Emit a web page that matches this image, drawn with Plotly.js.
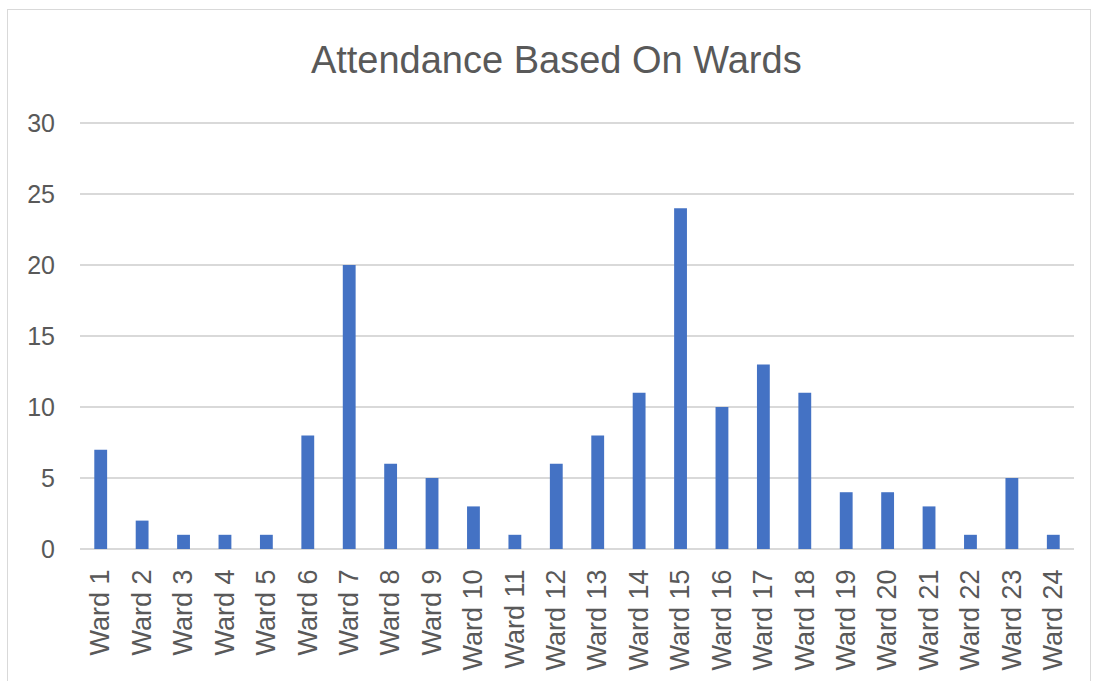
<!DOCTYPE html>
<html>
<head>
<meta charset="utf-8">
<script src="https://cdn.plot.ly/plotly-3.0.1.min.js"></script>
<style>
html,body{margin:0;padding:0;background:#fff;}
#chart{width:1095px;height:681px;position:relative;}
#frame{position:absolute;left:7px;top:9px;width:1082px;height:720px;border:1.5px solid #d9d9d9;pointer-events:none;}
</style>
</head>
<body>
<div id="chart"></div>
<div id="frame"></div>
<script>
const wards = ["Ward 1","Ward 2","Ward 3","Ward 4","Ward 5","Ward 6","Ward 7","Ward 8","Ward 9","Ward 10","Ward 11","Ward 12","Ward 13","Ward 14","Ward 15","Ward 16","Ward 17","Ward 18","Ward 19","Ward 20","Ward 21","Ward 22","Ward 23","Ward 24"];
const attendance = [7,2,1,1,1,8,20,6,5,3,1,6,8,11,24,10,13,11,4,4,3,1,5,1];
const yTicks = [0,5,10,15,20,25,30];
const chartTitle = "Attendance Based On Wards";

const font = "Liberation Sans, Arial, sans-serif";
Plotly.newPlot("chart", [{
  type: "bar",
  x: wards,
  y: attendance,
  width: 0.31,
  marker: {color: "#4472C4"},
  hoverinfo: "x+y"
}], {
  width: 1095, height: 681,
  margin: {l: 80, r: 21, t: 122, b: 132},
  paper_bgcolor: "#fff", plot_bgcolor: "#fff",
  title: {text: chartTitle, font: {family: font, size: 38, color: "#595959"}, x: 0.508, xanchor: "center", xref: "container", y: 0.912, yanchor: "middle"},
  xaxis: {
    type: "category", tickangle: -90,
    tickfont: {family: font, size: 27, color: "#595959"},
    showgrid: false, showline: false, zeroline: false, ticks: "",
    ticklabelstandoff: 14
  },
  yaxis: {
    range: [0, 30.08], tickvals: yTicks, ticktext: yTicks.map(String),
    tickfont: {family: font, size: 25, color: "#595959"},
    gridcolor: "#d9d9d9", gridwidth: 1.5,
    zeroline: true, zerolinecolor: "#d9d9d9", zerolinewidth: 1.5,
    showline: false, ticks: "", ticklabelstandoff: 24
  },
  showlegend: false
}, {displayModeBar: false, staticPlot: true});
</script>
</body>
</html>
